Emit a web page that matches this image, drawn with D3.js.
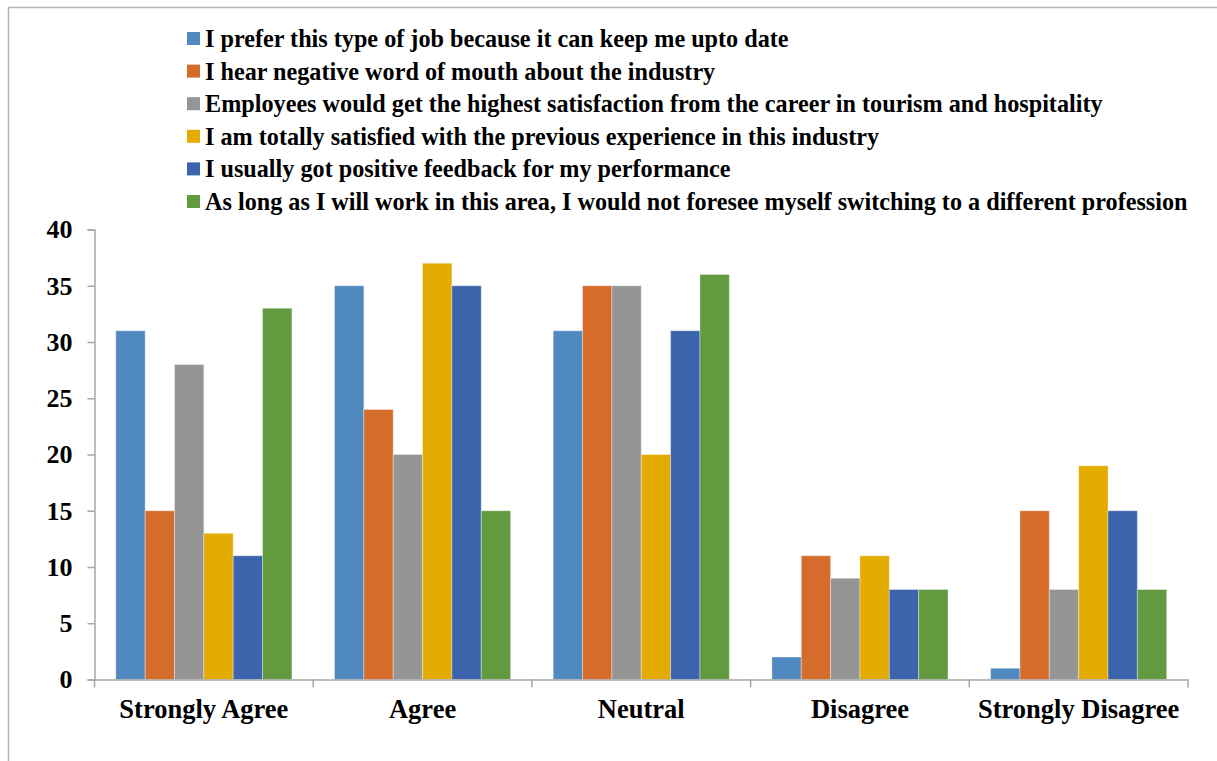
<!DOCTYPE html>
<html>
<head>
<meta charset="utf-8">
<script src="https://cdn.jsdelivr.net/npm/d3@7"></script>
<style>
  body { margin: 0; background: #fff; }
  svg { display: block; }
</style>
</head>
<body>
<svg id="chart" width="1217" height="761"></svg>
<script>
var categories = ['Strongly Agree', 'Agree', 'Neutral', 'Disagree', 'Strongly Disagree'];
var seriesNames = [
    'I prefer this type of job because it can keep me upto date',
    'I hear negative word of mouth about the industry',
    'Employees would get the highest satisfaction from the career in tourism and hospitality',
    'I am totally satisfied with the previous experience in this industry',
    'I usually got positive feedback for my performance',
    'As long as I will work in this area, I would not foresee myself switching to a different profession'
];
var seriesColors = ['#4F89BF', '#D56C2C', '#959595', '#E4AB00', '#3B64AD', '#619A3F'];
// one array per series, in category order
var prefer = [31, 35, 31, 2, 1];
var negative = [15, 24, 35, 11, 15];
var satisfaction = [28, 20, 35, 9, 8];
var experience = [13, 37, 20, 11, 19];
var feedback = [11, 35, 31, 8, 15];
var stay = [33, 15, 36, 8, 8];
var seriesValues = [prefer, negative, satisfaction, experience, feedback, stay];
var yTicks = [0, 5, 10, 15, 20, 25, 30, 35, 40];

var svg = d3.select('#chart');
var font = '"Liberation Serif", "Times New Roman", serif';
var axisColor = '#A6A6A6';

// outer frame (runs off the right and bottom edges)
svg.append('path')
    .attr('d', 'M8.5,761 L8.5,7.5 L1217,7.5')
    .attr('fill', 'none').attr('stroke', '#B4B4B4').attr('stroke-width', 1.5);

var plotLeft = 94.5, plotRight = 1188, plotTop = 229.5, plotBottom = 679.5;

var x = d3.scaleBand().domain(categories).range([plotLeft, plotRight]).paddingInner(0).paddingOuter(0);
var groupPad = 21.3;
var xSub = d3.scaleBand().domain(d3.range(seriesNames.length))
    .range([groupPad, x.bandwidth() - groupPad]).padding(0);
var y = d3.scaleLinear().domain([0, 40]).range([plotBottom, plotTop]);

// bars
var groups = svg.append('g').selectAll('g').data(categories).join('g')
    .attr('transform', function (d) { return 'translate(' + x(d) + ',0)'; });

groups.selectAll('rect').data(function (d, ci) {
    return seriesValues.map(function (vals, si) { return { s: si, v: vals[ci] }; });
}).join('rect')
    .attr('x', function (d) { return xSub(d.s); })
    .attr('width', xSub.bandwidth())
    .attr('y', function (d) { return y(d.v); })
    .attr('height', function (d) { return y(0) - y(d.v); })
    .attr('fill', function (d) { return seriesColors[d.s]; })
    .attr('stroke', 'rgba(255,255,255,0.35)').attr('stroke-width', 1);

// y axis
var yAxis = svg.append('g').attr('transform', 'translate(' + plotLeft + ',0)')
    .call(d3.axisLeft(y).tickValues(yTicks).tickSize(7).tickPadding(15));
yAxis.select('.domain').attr('stroke', axisColor).attr('stroke-width', 1.5);
yAxis.selectAll('.tick line').attr('stroke', axisColor).attr('stroke-width', 1.5);
yAxis.selectAll('.tick text')
    .attr('font-family', font).attr('font-size', 26).attr('font-weight', 'bold').attr('fill', '#000');

// x axis
var xAxis = svg.append('g').attr('transform', 'translate(0,' + plotBottom + ')')
    .call(d3.axisBottom(x).tickSize(0).tickPadding(20));
xAxis.select('.domain').attr('stroke', axisColor).attr('stroke-width', 1.5);
xAxis.selectAll('.tick text')
    .attr('font-family', font).attr('font-size', 26.5).attr('font-weight', 'bold').attr('fill', '#000');
xAxis.selectAll('.bound').data(d3.range(categories.length + 1)).join('line')
    .attr('class', 'bound')
    .attr('x1', function (i) { return plotLeft + i * x.bandwidth(); })
    .attr('x2', function (i) { return plotLeft + i * x.bandwidth(); })
    .attr('y1', 0).attr('y2', 8)
    .attr('stroke', axisColor).attr('stroke-width', 1.5);

// legend
var legend = svg.append('g').attr('transform', 'translate(187,32)');
var item = legend.selectAll('g').data(seriesNames).join('g')
    .attr('transform', function (d, i) { return 'translate(0,' + (i * 32.6) + ')'; });
item.append('rect').attr('width', 13).attr('height', 13)
    .attr('fill', function (d, i) { return seriesColors[i]; });
item.append('text').attr('x', 18).attr('y', 6.5).attr('dy', '0.35em')
    .attr('font-family', font).attr('font-size', 24.2).attr('font-weight', 'bold')
    .text(function (d) { return d; });
</script>
</body>
</html>
